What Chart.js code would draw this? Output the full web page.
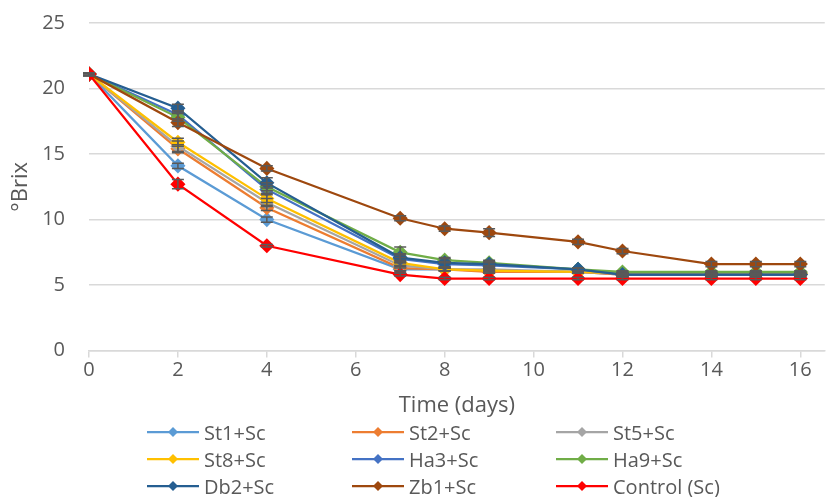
<!DOCTYPE html>
<html>
<head>
<meta charset="utf-8">
<script src="https://cdn.jsdelivr.net/npm/chart.js@4/dist/chart.umd.min.js"></script>
<style>
  html, body { margin: 0; padding: 0; background: #fff; }
  #wrap { position: relative; width: 833px; height: 497px; }
  #legend { position: absolute; left: 0; top: 0; width: 833px; height: 497px; pointer-events: none;
    font-family: "Open Sans", sans-serif; font-size: 20px; color: #595959; }
  .item { position: absolute; height: 26px; display: flex; align-items: center; white-space: nowrap; }
  .item canvas { margin-right: 5px; }
</style>
</head>
<body>
<div id="wrap">
  <canvas id="myChart" width="833" height="497"></canvas>
  <div id="legend"></div>
</div>
<script>
// days of measurement
const days = [0, 2, 4, 7, 8, 9, 11, 12, 14, 15, 16];
const yTicks = [0, 5, 10, 15, 20, 25];

const seriesNames = ["St1+Sc", "St2+Sc", "St5+Sc", "St8+Sc", "Ha3+Sc", "Ha9+Sc", "Db2+Sc", "Zb1+Sc", "Control (Sc)"];
const seriesColors = ["#5B9BD5", "#ED7D31", "#A5A5A5", "#FFC000", "#4472C4", "#70AD47", "#255E91", "#9E480E", "#FF0000"];

// °Brix values
const st1 = [21.1, 14.1, 10.0, 6.2, 6.2, 6.1, 6.0, 5.8, 5.8, 5.8, 5.8];
const st2 = [21.1, 15.4, 10.9, 6.3, 6.2, 6.0, 6.0, 5.8, 5.8, 5.8, 5.8];
const st5 = [21.1, 15.6, 11.3, 6.5, 6.2, 6.2, 6.0, 5.9, 5.9, 5.9, 5.9];
const st8 = [21.1, 15.9, 11.6, 6.7, 6.2, 6.1, 6.0, 5.9, 5.9, 5.9, 5.9];
const ha3 = [21.1, 18.0, 12.3, 7.0, 6.6, 6.5, 6.2, 5.8, 5.8, 5.8, 5.8];
const ha9 = [21.1, 17.8, 12.5, 7.5, 6.9, 6.7, 6.2, 6.0, 6.0, 6.0, 6.0];
const db2 = [21.1, 18.5, 12.8, 7.1, 6.7, 6.6, 6.2, 5.8, 5.8, 5.8, 5.8];
const zb1 = [21.1, 17.4, 13.9, 10.1, 9.3, 9.0, 8.3, 7.6, 6.6, 6.6, 6.6];
const control = [21.1, 12.7, 8.0, 5.8, 5.5, 5.5, 5.5, 5.5, 5.5, 5.5, 5.5];

// error bars (±)
const st1Err = [0.1, 0.2, 0.2, 0.2, 0.1, 0.1, 0.1, 0.1, 0.1, 0.1, 0.1];
const st2Err = [0.1, 0.3, 0.2, 0.2, 0.1, 0.1, 0.1, 0.1, 0.1, 0.1, 0.1];
const st5Err = [0.1, 0.4, 0.3, 0.2, 0.1, 0.1, 0.1, 0.1, 0.1, 0.1, 0.1];
const st8Err = [0.1, 0.3, 0.3, 0.2, 0.1, 0.1, 0.1, 0.1, 0.1, 0.1, 0.1];
const ha3Err = [0.1, 0.3, 0.3, 0.3, 0.2, 0.2, 0.1, 0.1, 0.1, 0.1, 0.1];
const ha9Err = [0.1, 0.3, 0.3, 0.4, 0.2, 0.2, 0.1, 0.1, 0.1, 0.1, 0.1];
const db2Err = [0.1, 0.3, 0.4, 0.3, 0.3, 0.2, 0.1, 0.1, 0.1, 0.1, 0.1];
const zb1Err = [0.1, 0.3, 0.2, 0.2, 0.2, 0.3, 0.2, 0.2, 0.2, 0.2, 0.2];
const controlErr = [0.1, 0.35, 0.1, 0.1, 0.1, 0.1, 0.1, 0.1, 0.1, 0.1, 0.1];

const allValues = [st1, st2, st5, st8, ha3, ha9, db2, zb1, control];
const allErrors = [st1Err, st2Err, st5Err, st8Err, ha3Err, ha9Err, db2Err, zb1Err, controlErr];

const textColor = "#595959";
const font = "'Open Sans', sans-serif";

const datasets = seriesNames.map((name, i) => ({
  label: name,
  data: days.map((d, j) => ({ x: d, y: allValues[i][j] })),
  errors: allErrors[i],
  borderColor: seriesColors[i],
  backgroundColor: seriesColors[i],
  borderWidth: 2.25,
  pointStyle: "rectRot",
  pointRadius: 6,
  pointHoverRadius: 6,
  tension: 0,
  order: seriesNames.length - 1 - i
}));

const errorBars = {
  id: "errorBars",
  afterDatasetsDraw(chart) {
    const ctx = chart.ctx;
    const yScale = chart.scales.y;
    ctx.save();
    ctx.strokeStyle = "#595959";
    ctx.lineWidth = 1.5;
    chart.data.datasets.forEach((ds, i) => {
      const meta = chart.getDatasetMeta(i);
      meta.data.forEach((pt, j) => {
        const v = ds.data[j].y;
        const e = ds.errors[j];
        const yTop = yScale.getPixelForValue(v + e);
        const yBot = yScale.getPixelForValue(v - e);
        ctx.beginPath();
        ctx.moveTo(pt.x, yTop); ctx.lineTo(pt.x, yBot);
        ctx.moveTo(pt.x - 6, yTop); ctx.lineTo(pt.x + 6, yTop);
        ctx.moveTo(pt.x - 6, yBot); ctx.lineTo(pt.x + 6, yBot);
        ctx.stroke();
      });
    });
    ctx.restore();
  }
};

const chart = new Chart(document.getElementById("myChart").getContext("2d"), {
  type: "line",
  data: { datasets: datasets },
  plugins: [errorBars],
  options: {
    responsive: false,
    animation: false,
    layout: { padding: { top: 23, right: 0, bottom: 78, left: 0 } },
    plugins: { legend: { display: false }, tooltip: { enabled: false } },
    scales: {
      x: {
        type: "linear",
        min: 0,
        max: 16.55,
        grid: { drawOnChartArea: false, drawTicks: true, tickLength: 7, color: "#d9d9d9", lineWidth: 1.5 },
        border: { color: "#d9d9d9", width: 1.5 },
        ticks: { stepSize: 2, includeBounds: false, padding: 1, color: textColor, font: { family: font, size: 20 } },
        title: { display: true, text: "Time (days)", color: textColor, font: { family: font, size: 22 }, padding: { top: 9, bottom: 0 } }
      },
      y: {
        min: 0,
        max: 25,
        afterBuildTicks: (s) => { s.ticks = yTicks.map(v => ({ value: v })); },
        afterFit: (s) => { s.width = 89; s.paddingTop = 0; s.paddingBottom = 0; },
        grid: { color: "#d9d9d9", lineWidth: 1.5, drawTicks: false },
        border: { display: false },
        ticks: { padding: 24, color: textColor, font: { family: font, size: 20 } },
        title: { display: true, text: "°Brix", color: textColor, font: { family: font, size: 22 }, padding: { top: 8, bottom: 0 } }
      }
    }
  }
});

// legend in 3 columns
const legendCols = [147, 352, 556];
const legendRows = [432, 459, 486];
const legendEl = document.getElementById("legend");
seriesNames.forEach((name, i) => {
  const item = document.createElement("div");
  item.className = "item";
  item.style.left = legendCols[i % 3] + "px";
  item.style.top = (legendRows[Math.floor(i / 3)] - 13) + "px";
  const icon = document.createElement("canvas");
  icon.width = 52; icon.height = 14;
  const c = icon.getContext("2d");
  c.strokeStyle = seriesColors[i]; c.lineWidth = 2.25;
  c.beginPath(); c.moveTo(0, 7); c.lineTo(52, 7); c.stroke();
  c.fillStyle = seriesColors[i];
  c.beginPath(); c.moveTo(26, 2); c.lineTo(31, 7); c.lineTo(26, 12); c.lineTo(21, 7); c.closePath(); c.fill();
  const label = document.createElement("span");
  label.textContent = name;
  item.appendChild(icon); item.appendChild(label);
  legendEl.appendChild(item);
});
</script>
</body>
</html>
